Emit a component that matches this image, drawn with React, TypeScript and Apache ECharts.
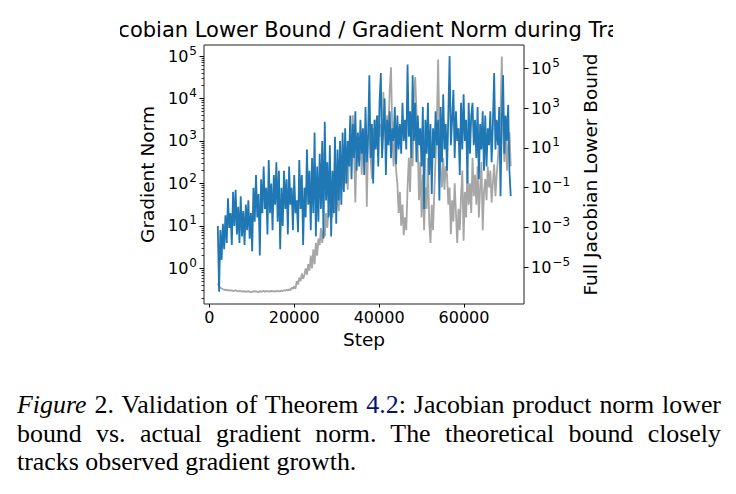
import React, { useEffect, useRef } from "react";
import * as echarts from "echarts";

// Logged every STEP_EVERY steps, starting at STEP_START
const STEP_START = 2000;
const STEP_EVERY = 300;

const gradNormLog10 = [
  1.0, -0.55, 0.9, 0.2, 1.05, 0.45, 1.25, 0.6, 1.65, 0.95,
  1.3, 0.55, 1.8, 1.0, 1.85, 0.8, 1.45, 0.6, 1.7, 0.75,
  1.35, 0.55, 1.5, 0.9, 1.6, 0.7, 1.3, 0.4, 1.9, 1.1,
  2.2, 1.2, 1.75, 0.3, 2.1, 1.3, 2.4, 1.4, 1.9, 0.8,
  2.55, 1.3, 2.0, 0.9, 2.2, 1.5, 2.5, 1.1, 2.3, 0.45,
  1.9, 1.0, 2.3, 1.4, 2.1, 0.8, 2.4, 1.5, 1.9, 0.9,
  2.2, 1.3, 1.6, 0.85, 2.55, 1.4, 2.2, 0.55, 1.9, 1.2,
  2.8, 1.5, 2.3, 0.9, 2.6, 1.3, 3.2, 0.75, 2.4, 1.1,
  2.7, 1.4, 3.0, 0.7, 3.45, 1.6, 2.5, 1.2, 2.9, 0.75,
  2.3, 1.3, 3.1, 1.05, 2.8, 1.6, 3.0, 1.5, 3.2, 1.8,
  3.3, 2.0, 3.0, 2.4, 3.6, 2.1, 3.4, 2.6, 3.7, 2.3,
  3.2, 2.4, 3.5, 2.7, 3.3, 2.2, 3.8, 2.5, 3.1, 4.55,
  2.6, 3.4, 2.0, 3.5, 2.8, 3.6, 2.4, 3.9, 4.6, 2.6,
  3.3, 4.0, 2.2, 3.5, 2.9, 3.7, 2.6, 3.3, 3.0, 3.8,
  2.45, 3.6, 2.8, 3.4, 2.7, 3.9, 3.0, 3.5, 2.8, 4.8,
  3.1, 3.7, 2.6, 4.55, 3.0, 3.9, 2.5, 3.6, 2.9, 3.3,
  2.4, 3.8, 1.4, 3.5, 2.7, 3.9, 2.2, 3.4, 1.75, 3.3,
  2.6, 3.7, 2.9, 3.5, 1.6, 3.8, 2.5, 4.1, 2.8, 3.4,
  2.3, 3.6, 5.0, 2.9, 3.5, 4.2, 2.6, 3.7, 3.0, 3.3,
  2.2, 3.9, 2.8, 4.1, 3.0, 3.5, 2.0, 3.9, 2.7, 3.6,
  3.9, 2.9, 3.5, 2.6, 3.8, 2.1, 3.4, 2.8, 3.7, 2.3,
  3.6, 2.4, 3.3, 2.9, 3.7, 2.5, 3.4, 4.6, 2.8, 3.5,
  2.9, 3.8, 1.7, 3.5, 4.55, 2.7, 3.6, 3.0, 3.85, 2.3,
  1.7,
];

const jacobianBoundLog10 = [
  -5.8, -5.95, -6.02, -6.06, -6.1, -6.12, -6.14, -6.12, -6.16, -6.14,
  -6.17, -6.15, -6.19, -6.17, -6.15, -6.19, -6.21, -6.17, -6.19, -6.23,
  -6.19, -6.23, -6.21, -6.23, -6.19, -6.23, -6.25, -6.21, -6.23, -6.19,
  -6.23, -6.21, -6.25, -6.19, -6.23, -6.21, -6.17, -6.23, -6.19, -6.21,
  -6.19, -6.23, -6.17, -6.21, -6.19, -6.23, -6.19, -6.17, -6.21, -6.19,
  -6.17, -6.19, -6.15, -6.17, -6.12, -6.17, -6.1, -6.15, -6.02, -6.08,
  -5.95, -6.08, -5.69, -5.86, -5.52, -5.69, -5.31, -5.58, -5.37, -5.05,
  -5.37, -4.84, -5.16, -4.41, -5.05, -4.09, -4.84, -3.77, -4.41, -3.55,
  -3.88, -3.02, -3.77, -3.13, -3.45, -2.27, -3.02, -2.06, -2.38, -1.63,
  -2.49, -1.42, -2.27, -1.21, -1.63, -2.17, -0.88, -0.35, -1.1, -0.14,
  -0.78, 0.29, -1.1, 0.5, 0.08, 1.14, 2.64, 0.72, -1.74, 0.93,
  1.36, 0.29, 1.57, -0.35, 1.79, 0.72, 2.21, -1.95, 1.14, 2.0,
  0.5, -0.56, 2.0, 0.93, 2.43, 1.14, 2.64, 1.57, 2.21, 0.72,
  3.81, 2.21, 1.36, 2.64, 2.0, 3.92, 5.05, 1.79, 0.08, 1.36,
  -0.14, -0.78, -2.27, -1.21, -2.91, -1.85, -3.38, -2.49, -3.13, -0.99,
  0.5, -1.21, 1.57, 0.08, 3.49, 4.56, 2.85, 1.14, -1.63, 0.29,
  -2.49, -0.35, -3.13, -0.99, -2.06, 0.5, -2.7, -3.77, -1.85, -3.13,
  -1.21, 0.5, 2.21, 5.44, 1.79, -0.14, -0.99, 0.5, -1.1, 0.08,
  -0.35, -1.85, -0.99, -3.34, -1.63, -2.7, -0.78, -2.27, -3.77, -2.06,
  -3.13, -1.42, -0.14, -3.66, -1.21, -2.49, -0.14, -1.85, -0.78, -2.27,
  0.5, -1.42, -0.35, -1.85, 0.08, -2.49, -0.99, 0.29, -3.13, -1.21,
  -0.56, -1.63, 0.08, -0.99, -0.14, -1.74, -0.78, 0.18, -1.42, -0.35,
  0.5, 1.57, 2.7, 5.59, 2.0, 0.29, 2.15, -0.14, 1.14, 1.79,
  0.08,
];

const stepTicks = [0, 20000, 40000, 60000];
const gradTickExps = [0, 1, 2, 3, 4, 5];
const jacTickExps = [-5, -3, -1, 1, 3, 5];
const gradMinorDecades = [-1, 0, 1, 2, 3, 4, 5];
const minorMultipliers = [2, 3, 4, 5, 6, 7, 8, 9];

const TITLE = "Full Jacobian Lower Bound / Gradient Norm during Training";
const X_NAME = "Step";
const LEFT_NAME = "Gradient Norm";
const RIGHT_NAME = "Full Jacobian Lower Bound";

const FONT = "DejaVu Sans";
const TICK_FS = 16;
const NAME_FS = 18.5;

const expLabel = (v: number) => {
  const r = Math.round(v);
  return `{b|10}{s|${r < 0 ? "\u2212" : ""}${Math.abs(r)}}`;
};

const richSup = {
  b: { fontSize: TICK_FS, fontFamily: FONT, color: "#000", verticalAlign: "middle" },
  s: {
    fontSize: 12,
    fontFamily: FONT,
    color: "#000",
    verticalAlign: "middle",
    padding: [0, 0, 11, 1],
  },
};

function Chart() {
  const ref = useRef<HTMLDivElement>(null);
  useEffect(() => {
    if (!ref.current) return;
    const chart = echarts.init(ref.current, undefined, { renderer: "svg" });
    const gradMinor: number[] = [];
    gradMinorDecades.forEach((d) =>
      minorMultipliers.forEach((k) => gradMinor.push(d + Math.log10(k)))
    );
    const gradData = gradNormLog10.map((v, i) => [STEP_START + i * STEP_EVERY, v]);
    const jacData = jacobianBoundLog10.map((v, i) => [STEP_START + i * STEP_EVERY, v]);
    const tickLine = { color: "#000", width: 1 };

    chart.setOption({
      animation: false,
      backgroundColor: "#fff",
      grid: {
        left: 84,
        top: 45,
        width: 320,
        height: 259,
        show: true,
        borderColor: "#222",
        borderWidth: 1,
        backgroundColor: "transparent",
        containLabel: false,
      },
      graphic: [
        {
          type: "text",
          x: 244,
          y: 30,
          style: {
            text: TITLE,
            font: `21px '${FONT}'`,
            fill: "#000",
            align: "center",
            verticalAlign: "middle",
            textAlign: "center",
            textVerticalAlign: "middle",
          },
        },
      ],
      xAxis: {
        type: "value",
        min: -1250,
        max: 74130,
        splitLine: { show: false },
        axisLine: { show: false, onZero: false },
        axisTick: { show: true, length: 3.5, lineStyle: tickLine, customValues: stepTicks },
        axisLabel: {
          customValues: stepTicks,
          fontSize: TICK_FS,
          fontFamily: FONT,
          color: "#000",
          margin: 5,
          formatter: (v: number) => String(v),
        },
        name: X_NAME,
        nameLocation: "middle",
        nameGap: 22,
        nameTextStyle: { fontSize: NAME_FS, fontFamily: FONT, color: "#000" },
      },
      yAxis: [
        {
          type: "value",
          position: "left",
          min: -0.84,
          max: 5.26,
          splitLine: { show: false },
          axisLine: { show: false, onZero: false },
          axisTick: { show: true, length: 4.5, lineStyle: tickLine, customValues: gradTickExps },
          axisLabel: {
            customValues: gradTickExps,
            formatter: expLabel,
            rich: richSup,
            margin: 7,
          },
          name: LEFT_NAME,
          nameLocation: "middle",
          nameRotate: 90,
          nameGap: 41,
          nameTextStyle: { fontSize: NAME_FS, fontFamily: FONT, color: "#000" },
        },
        {
          type: "value",
          position: "right",
          min: -6.84,
          max: 6.17,
          splitLine: { show: false },
          axisLine: { show: false, onZero: false },
          axisTick: { show: true, length: 4.5, lineStyle: tickLine, customValues: jacTickExps },
          axisLabel: {
            customValues: jacTickExps,
            formatter: expLabel,
            rich: richSup,
            margin: 7,
          },
          name: RIGHT_NAME,
          nameLocation: "middle",
          nameRotate: 90,
          nameGap: 42,
          nameTextStyle: { fontSize: NAME_FS, fontFamily: FONT, color: "#000" },
        },
        {
          type: "value",
          position: "left",
          min: -0.84,
          max: 5.26,
          splitLine: { show: false },
          axisLine: { show: false, onZero: false },
          axisTick: { show: true, length: 2.5, lineStyle: { color: "#000", width: 0.8 }, customValues: gradMinor },
          axisLabel: { show: false },
        },
      ],
      series: [
        {
          type: "line",
          name: RIGHT_NAME,
          yAxisIndex: 1,
          data: jacData,
          showSymbol: false,
          symbol: "none",
          lineStyle: { color: "#a6a6a6", width: 1.8 },
          z: 2,
        },
        {
          type: "line",
          name: LEFT_NAME,
          yAxisIndex: 0,
          data: gradData,
          showSymbol: false,
          symbol: "none",
          lineStyle: { color: "#1f77b4", width: 1.8 },
          z: 3,
        },
      ],
    });
    return () => chart.dispose();
  }, []);
  return (
    <div
      ref={ref}
      style={{ position: "absolute", left: 120, top: 0, width: 493, height: 370, overflow: "hidden" }}
    />
  );
}

const captionLine: React.CSSProperties = {
  height: 28.5,
  lineHeight: "28.5px",
  whiteSpace: "nowrap",
};

const justifiedLine: React.CSSProperties = {
  height: 28.5,
  lineHeight: "28.5px",
  whiteSpace: "normal",
  textAlign: "justify",
  textAlignLast: "justify",
  overflow: "hidden",
};

export default function App() {
  return (
    <div
      style={{
        position: "absolute",
        left: 0,
        top: 0,
        width: 736,
        height: 494,
        background: "#fff",
        overflow: "hidden",
      }}
    >
      <Chart />
      <div
        style={{
          position: "absolute",
          left: 17,
          top: 391,
          width: 704,
          fontFamily: "'Liberation Serif', 'Times New Roman', serif",
          fontSize: 25.9,
          color: "#000",
        }}
      >
        <div style={justifiedLine}>
          <i>Figure</i> 2. Validation of Theorem <span style={{ color: "#001473" }}>4.2</span>: Jacobian product norm lower
        </div>
        <div style={justifiedLine}>
          bound vs. actual gradient norm. The theoretical bound closely
        </div>
        <div style={captionLine}>tracks observed gradient growth.</div>
      </div>
    </div>
  );
}
